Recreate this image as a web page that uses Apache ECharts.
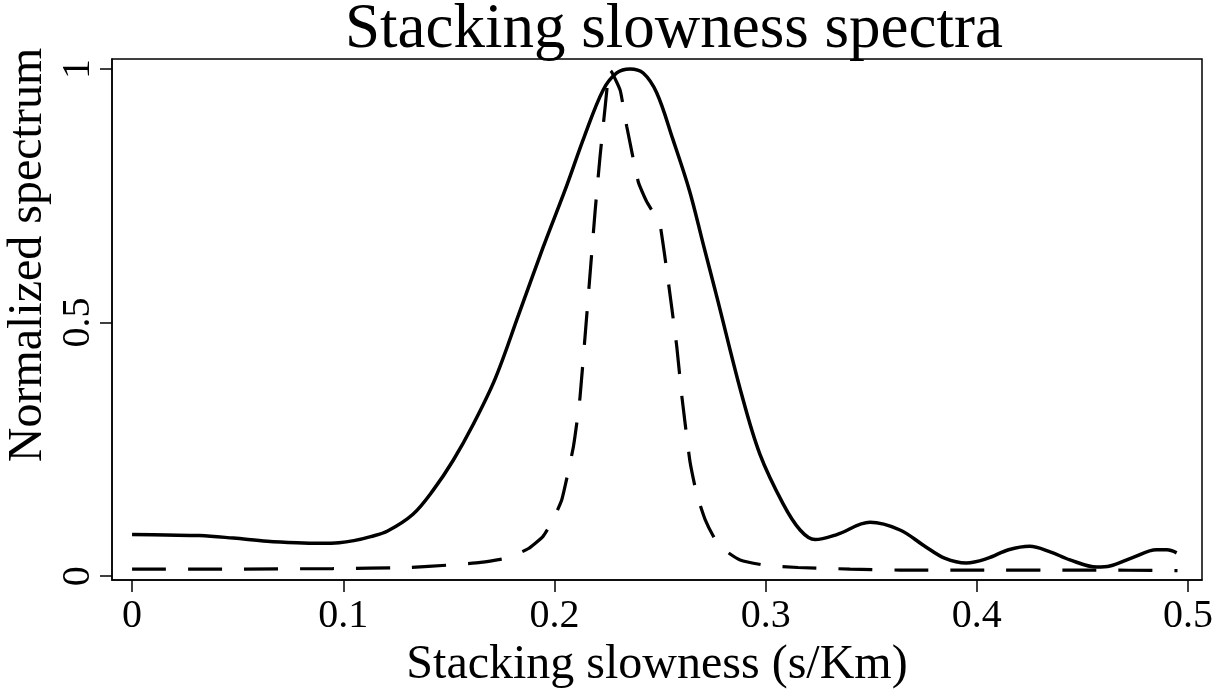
<!DOCTYPE html>
<html>
<head>
<meta charset="utf-8">
<script src="https://cdn.jsdelivr.net/npm/echarts@6/dist/echarts.min.js"></script>
<style>
  html, body { margin: 0; padding: 0; background: #fff; }
  #chart { width: 1222px; height: 694px; }
</style>
</head>
<body>
<div id="chart"></div>
<script>
// slowness (s/Km) and normalized spectrum
const solidX = [0, 0.016, 0.032, 0.048, 0.064, 0.078, 0.089, 0.098, 0.105, 0.113, 0.121, 0.133, 0.1425, 0.152, 0.1615, 0.172, 0.183, 0.1946, 0.2058, 0.214, 0.223, 0.2295, 0.2358, 0.242, 0.2484, 0.256, 0.264, 0.2704, 0.2768, 0.2887, 0.2973, 0.3082, 0.3163, 0.3234, 0.3337, 0.3494, 0.3636, 0.375, 0.385, 0.395, 0.405, 0.415, 0.425, 0.4347, 0.4441, 0.4568, 0.463, 0.474, 0.485, 0.49, 0.4946]
const solidY = [0.082, 0.081, 0.080, 0.075, 0.069, 0.066, 0.065, 0.066, 0.070, 0.078, 0.089, 0.122, 0.169, 0.228, 0.299, 0.390, 0.515, 0.648, 0.770, 0.865, 0.958, 0.992, 1.0, 0.992, 0.953, 0.862, 0.759, 0.655, 0.552, 0.357, 0.240, 0.143, 0.091, 0.072, 0.082, 0.106, 0.091, 0.060, 0.035, 0.026, 0.035, 0.052, 0.059, 0.048, 0.032, 0.018, 0.020, 0.037, 0.052, 0.052, 0.046]
const dashedX = [0, 0.05, 0.095, 0.13, 0.1506, 0.165, 0.178, 0.1875, 0.1945, 0.1987, 0.2035, 0.209, 0.2121, 0.2192, 0.2216, 0.2232, 0.2248, 0.2255, 0.2271, 0.2311, 0.2342, 0.2397, 0.2437, 0.2484, 0.25, 0.2532, 0.2579, 0.2603, 0.2642, 0.2674, 0.2713, 0.276, 0.282, 0.2879, 0.2989, 0.3153, 0.34, 0.3636, 0.4, 0.45, 0.495]
const dashedY = [0.014, 0.014, 0.015, 0.017, 0.022, 0.027, 0.036, 0.054, 0.078, 0.106, 0.151, 0.256, 0.353, 0.717, 0.828, 0.893, 0.958, 1.0, 0.994, 0.958, 0.887, 0.777, 0.738, 0.706, 0.693, 0.602, 0.453, 0.355, 0.225, 0.161, 0.112, 0.073, 0.047, 0.032, 0.022, 0.017, 0.014, 0.012, 0.012, 0.012, 0.011]
const xTicks = [0, 0.1, 0.2, 0.3, 0.4, 0.5]
const yTicks = [0, 0.5, 1]

const font = '"Liberation Serif", "DejaVu Serif", serif'
const chart = echarts.init(document.getElementById('chart'))

chart.setOption({
  animation: false,
  title: {
    text: 'Stacking slowness spectra',
    left: 340,
    top: -6,
    textStyle: { fontFamily: font, fontSize: 63, fontWeight: 'normal', color: '#000' },
  },
  grid: {
    left: 112,
    right: 20,
    top: 59,
    bottom: 109,
    show: true,
    borderColor: '#000',
    borderWidth: 1.5,
  },
  xAxis: {
    type: 'value',
    min: -0.0095,
    max: 0.5066,
    name: 'Stacking slowness (s/Km)',
    nameLocation: 'middle',
    nameGap: 60,
    nameTextStyle: { fontFamily: font, fontSize: 48, color: '#000' },
    axisLine: { show: true, onZero: false, lineStyle: { color: '#000', width: 1.5 } },
    axisTick: { show: true, inside: false, length: 12, customValues: xTicks, lineStyle: { color: '#000', width: 1.5 } },
    axisLabel: {
      customValues: xTicks,
      margin: 16,
      fontFamily: font,
      fontSize: 40,
      color: '#000',
      formatter: v => String(v),
    },
    splitLine: { show: false },
  },
  yAxis: {
    type: 'value',
    min: -0.0078,
    max: 1.0195,
    axisLine: { show: true, onZero: false, lineStyle: { color: '#000', width: 1.5 } },
    axisTick: { show: true, inside: false, length: 12, customValues: yTicks, lineStyle: { color: '#000', width: 1.5 } },
    axisLabel: {
      customValues: yTicks,
      rotate: 90,
      margin: 14,
      fontFamily: font,
      fontSize: 40,
      color: '#000',
      formatter: v => String(v),
    },
    splitLine: { show: false },
  },
  graphic: [{
    type: 'text',
    x: 28,
    y: 255,
    rotation: Math.PI / 2,
    style: {
      text: 'Normalized spectrum',
      font: '48px ' + font,
      fill: '#000',
      align: 'center',
      verticalAlign: 'middle',
    },
  }],
  series: [
    {
      name: 'solid',
      type: 'line',
      data: solidX.map((x, i) => [x, solidY[i]]),
      showSymbol: false,
      smooth: 0.35,
      lineStyle: { color: '#000', width: 3.5 },
    },
    {
      name: 'dashed',
      type: 'line',
      data: dashedX.map((x, i) => [x, dashedY[i]]),
      showSymbol: false,
      smooth: 0.15,
      lineStyle: { color: '#000', width: 3.2, type: [34, 22] },
    },
  ],
})
</script>
</body>
</html>
